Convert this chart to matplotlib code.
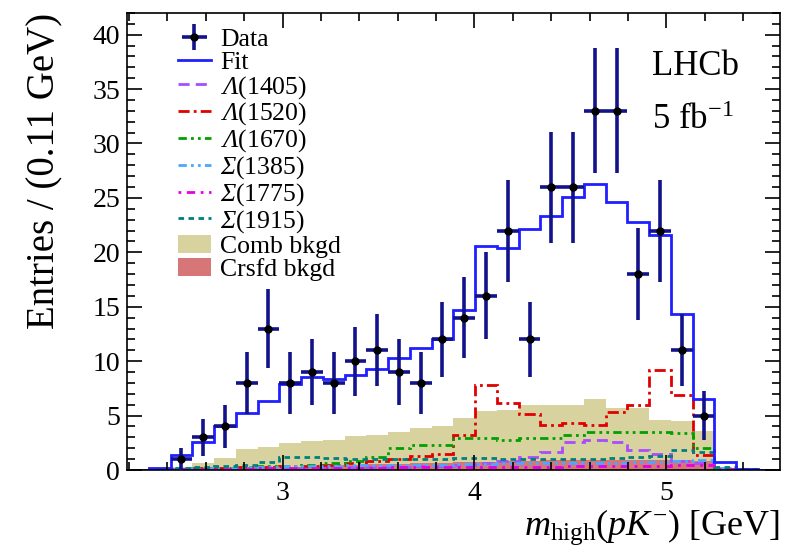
import numpy as np
import matplotlib
matplotlib.use("Agg")
import matplotlib.pyplot as plt
from matplotlib.patches import Patch
from matplotlib.lines import Line2D
from matplotlib.ticker import MultipleLocator

plt.rcParams['font.family'] = ['Liberation Serif', 'DejaVu Serif']
# Serif maths; the sf slot is mapped to the italic face so Greek capitals come out slanted
plt.rcParams['mathtext.fontset'] = 'custom'
plt.rcParams['mathtext.rm'] = 'Liberation Serif'
plt.rcParams['mathtext.it'] = 'Liberation Serif:italic'
plt.rcParams['mathtext.bf'] = 'Liberation Serif:bold'
plt.rcParams['mathtext.sf'] = 'Liberation Serif:italic'

# Binning of m_high(pK-)
x_lo, x_hi, n_bins = 2.19, 5.59, 30
edges = np.linspace(x_lo, x_hi, n_bins + 1)
centers = 0.5 * (edges[:-1] + edges[1:])
half_width = 0.5 * (edges[1] - edges[0])

# Observed candidates (bins 2..26)
data_first_bin = 2
data_counts = [1, 3, 4, 8, 13, 8, 9, 8, 10, 11, 9, 8, 12, 14, 16, 22, 12,
               26, 26, 33, 33, 18, 22, 11, 5]

# Total fit
fit = [0.0, 0.2, 1.4, 2.6, 4.0, 5.2, 6.3, 7.9, 8.5, 8.4, 8.7, 9.3, 10.3, 11.2,
       12.0, 14.7, 20.6, 20.4, 22.1, 23.3, 25.1, 26.3, 24.6, 22.8, 21.6, 14.3,
       6.5, 0.7, 0.05, 0.0]

# Fit components
lam1405 = [0.0, 0.02, 0.05, 0.1, 0.1, 0.15, 0.15, 0.2, 0.2, 0.25, 0.25, 0.3,
           0.3, 0.35, 0.4, 0.5, 0.6, 0.8, 1.2, 1.7, 2.6, 2.8, 2.6, 1.8, 1.5,
           0.8, 0.6, 0.05, 0.0, 0.0]
lam1520 = [0.0, 0.05, 0.1, 0.15, 0.2, 0.25, 0.3, 0.35, 0.4, 0.5, 0.6, 0.8,
           1.0, 1.3, 1.5, 3.2, 7.8, 6.2, 5.1, 4.1, 4.3, 4.1, 5.3, 6.0, 9.2,
           6.9, 1.4, 0.05, 0.0, 0.0]
lam1670 = [0.0, 0.03, 0.1, 0.15, 0.2, 0.3, 0.35, 0.4, 0.5, 0.6, 0.8, 1.2,
           2.0, 2.3, 2.3, 2.9, 2.9, 2.8, 2.9, 2.9, 3.2, 3.5, 3.5, 3.5, 3.5,
           3.4, 2.0, 0.1, 0.0, 0.0]
sig1385 = [0.0, 0.05, 0.1, 0.15, 0.2, 0.25, 0.3, 0.35, 0.4, 0.4, 0.45, 0.45,
           0.5, 0.5, 0.5, 0.55, 0.55, 0.6, 0.6, 0.6, 0.6, 0.65, 0.65, 0.7,
           0.7, 0.8, 0.9, 0.2, 0.05, 0.0]
sig1775 = [0.0, 0.02, 0.05, 0.08, 0.1, 0.12, 0.15, 0.15, 0.18, 0.2, 0.2, 0.22,
           0.25, 0.25, 0.28, 0.3, 0.3, 0.3, 0.32, 0.32, 0.35, 0.35, 0.38, 0.4,
           0.4, 0.45, 0.5, 0.1, 0.02, 0.0]
sig1915 = [0.0, 0.05, 0.15, 0.25, 0.35, 0.5, 0.7, 1.2, 1.2, 1.1, 1.0, 1.0,
           1.0, 1.0, 1.0, 1.1, 1.1, 1.0, 1.0, 1.0, 1.0, 1.0, 1.1, 1.2, 1.3,
           1.8, 1.7, 0.3, 0.1, 0.0]
comb = [0.0, 0.03, 0.22, 0.48, 0.92, 1.68, 1.82, 2.18, 2.32, 2.38, 2.62, 2.68,
        2.92, 3.28, 3.32, 4.08, 4.62, 4.68, 5.15, 5.12, 5.1, 5.58, 4.78, 4.78,
        3.68, 3.6, 2.75, 0.0, 0.0, 0.0]
crsfd = [0.0, 0.02, 0.08, 0.12, 0.18, 0.22, 0.28, 0.32, 0.38, 0.42, 0.48, 0.52,
         0.58, 0.62, 0.68, 0.72, 0.78, 0.82, 0.85, 0.88, 0.9, 0.92, 0.92, 0.92,
         0.92, 0.9, 0.85, 0.0, 0.0, 0.0]

comb_col = '#d8d39e'
crsfd_col = '#d77676'
fit_col = '#1f1fff'
err_col = '#12128a'

components = [
    (r'$\mathsf{\Lambda}$(1405)', lam1405, '#a64dff', (0, (4, 2.2))),
    (r'$\mathsf{\Lambda}$(1520)', lam1520, '#e00000', (0, (4, 1.5, 1, 1.5))),
    (r'$\mathsf{\Lambda}$(1670)', lam1670, '#00a000', (0, (3, 1.5, 1, 1.5, 1, 1.5))),
    (r'$\mathsf{\Sigma}$(1385)', sig1385, '#4da6ff', (0, (3, 1.5, 1, 1.5, 1, 1.5))),
    (r'$\mathsf{\Sigma}$(1775)', sig1775, '#e600e6', (0, (1, 2, 3, 2))),
    (r'$\mathsf{\Sigma}$(1915)', sig1915, '#007f7f', (0, (2, 1.6))),
]

fig = plt.figure(figsize=(7.86, 5.60), dpi=100)
ax = fig.add_axes([0.1616, 0.1607, 0.8304, 0.8163])

comb_top = np.array(comb) + np.array(crsfd)
ax.stairs(comb_top, edges, fill=True, color=comb_col, lw=0)
ax.stairs(crsfd, edges, fill=True, color=crsfd_col, lw=0)

for label, vals, col, ls in components:
    ax.stairs(vals, edges, color=col, lw=2.0, linestyle=ls, baseline=None)

ax.stairs(fit, edges, color=fit_col, lw=2.0, baseline=None)

xd = centers[data_first_bin:data_first_bin + len(data_counts)]
yd = np.array(data_counts, dtype=float)
eb = ax.errorbar(xd, yd, yerr=np.sqrt(yd), xerr=half_width, fmt='o', ms=5,
                 mfc='black', mec='black', ecolor=err_col, elinewidth=2.6,
                 capsize=0, zorder=5)

ax.set_xlim(x_lo, x_hi)
ax.set_ylim(0, 42)
ax.xaxis.set_major_locator(MultipleLocator(1))
ax.xaxis.set_minor_locator(MultipleLocator(0.2))
ax.yaxis.set_major_locator(MultipleLocator(5))
ax.yaxis.set_minor_locator(MultipleLocator(1))
ax.tick_params(which='both', direction='in', top=True, right=True,
               labelsize=20, width=1.2)
ax.tick_params(which='major', length=11)
ax.tick_params(which='minor', length=6)
ax.tick_params(axis='x', which='major', pad=8)
ax.tick_params(axis='y', which='major', pad=5)
for sp in ax.spines.values():
    sp.set_linewidth(1.2)

ax.set_xlabel(r'$m_{\mathrm{high}}(pK^{-})$ [GeV]', fontsize=26, ha='right')
ax.xaxis.set_label_coords(1.0, -0.083)
ax.set_ylabel('Entries / (0.11 GeV)', fontsize=28, ha='right')
ax.yaxis.set_label_coords(-0.098, 1.0)

ax.text(0.805, 0.882, 'LHCb', transform=ax.transAxes, fontsize=25,
        va='center', ha='left')
ax.text(0.805, 0.765, r'5 fb$^{-1}$', transform=ax.transAxes,
        fontsize=25, va='center', ha='left')

handles = [eb, Line2D([], [], color=fit_col, lw=2.0)]
labels = ['Data', 'Fit']
for label, vals, col, ls in components:
    handles.append(Line2D([], [], color=col, lw=2.0, linestyle=ls))
    labels.append(label)
handles += [Patch(facecolor=comb_col, edgecolor='none'),
            Patch(facecolor=crsfd_col, edgecolor='none')]
labels += ['Comb bkgd', 'Crsfd bkgd']

ax.legend(handles, labels, loc='upper left', bbox_to_anchor=(0.062, 0.99),
          frameon=False, fontsize=18.5, handlelength=1.3, handletextpad=0.35,
          labelspacing=0.0, borderaxespad=0.0)

fig.savefig('out.png', dpi=100)
